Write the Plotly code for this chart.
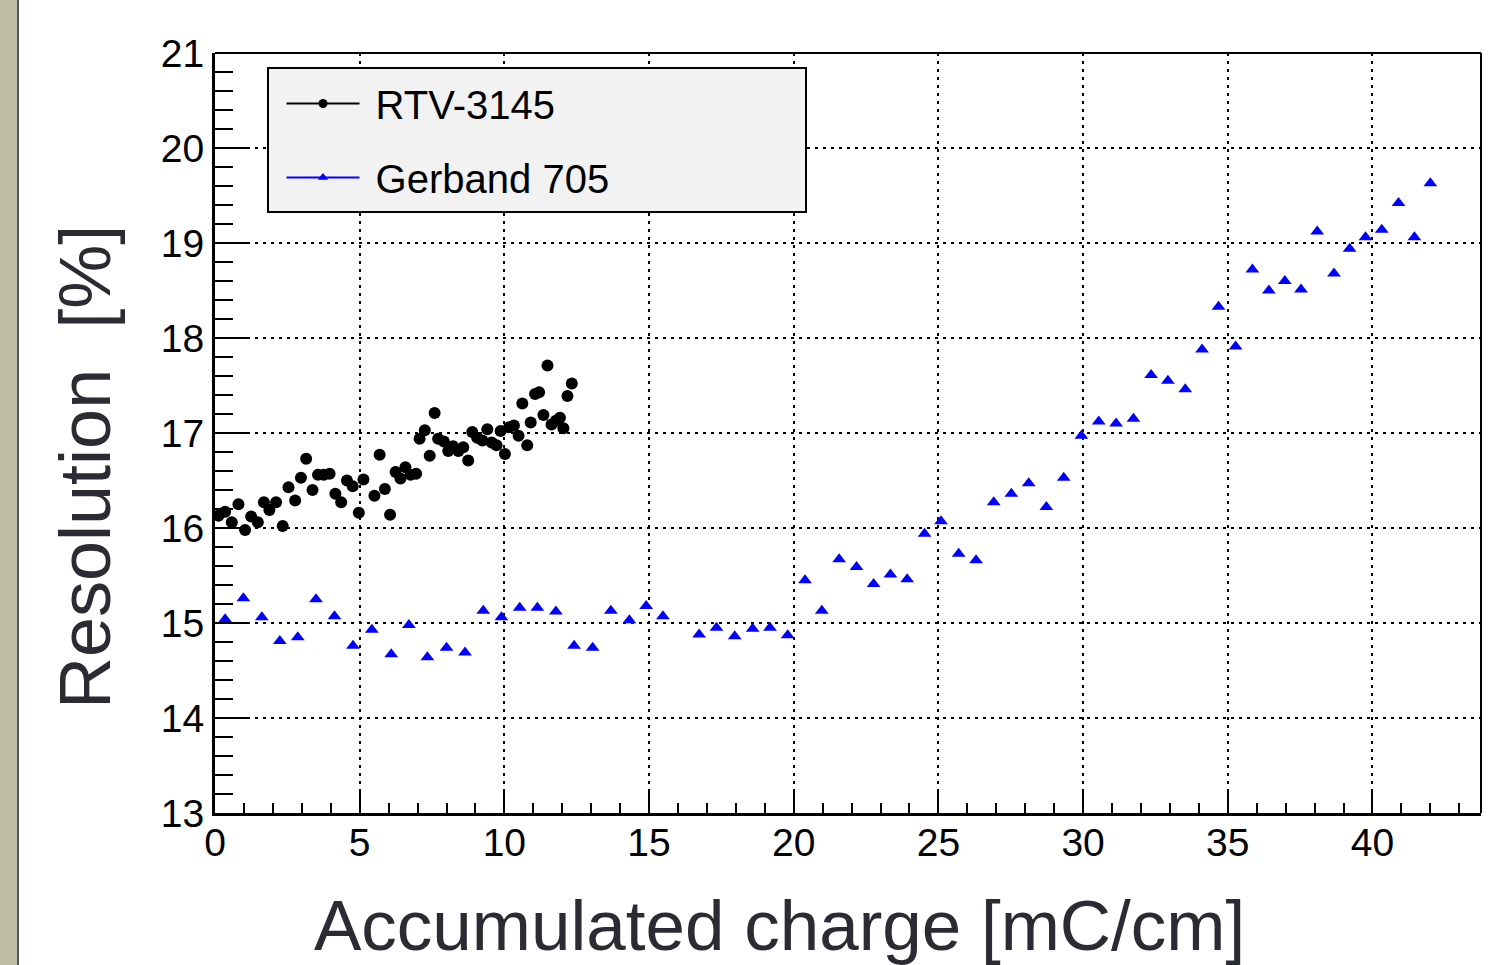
import plotly.graph_objects as go

# ---- data ----
rtv_x = [0.12, 0.35, 0.58, 0.81, 1.04, 1.25, 1.48, 1.69, 1.88, 2.11,
         2.34, 2.54, 2.77, 2.97, 3.15, 3.37, 3.56, 3.76, 3.96, 4.16,
         4.36, 4.56, 4.76, 4.97, 5.13, 5.51, 5.69, 5.87, 6.05, 6.24,
         6.41, 6.58, 6.76, 6.95, 7.07, 7.25, 7.42, 7.59, 7.71, 7.91,
         8.06, 8.23, 8.41, 8.58, 8.75, 8.89, 9.06, 9.24, 9.41, 9.56,
         9.73, 9.87, 10.02, 10.16, 10.33, 10.49, 10.62, 10.79, 10.91, 11.06,
         11.20, 11.35, 11.49, 11.63, 11.78, 11.92, 12.04, 12.18, 12.33]
rtv_y = [16.13, 16.17, 16.06, 16.25, 15.98, 16.12, 16.06, 16.27, 16.19, 16.27,
         16.02, 16.43, 16.29, 16.53, 16.73, 16.40, 16.56, 16.56, 16.57, 16.36,
         16.27, 16.50, 16.44, 16.16, 16.51, 16.34, 16.77, 16.41, 16.14, 16.59,
         16.52, 16.64, 16.56, 16.57, 16.94, 17.03, 16.76, 17.21, 16.94, 16.91,
         16.81, 16.86, 16.81, 16.85, 16.71, 17.01, 16.95, 16.92, 17.04, 16.90,
         16.87, 17.02, 16.78, 17.06, 17.08, 16.97, 17.31, 16.87, 17.11, 17.41,
         17.43, 17.19, 17.71, 17.09, 17.13, 17.16, 17.05, 17.39, 17.52]

gerband_x = [0.35, 0.98, 1.62, 2.24, 2.86, 3.49, 4.13, 4.77, 5.42, 6.09,
             6.70, 7.34, 8.00, 8.64, 9.27, 9.90, 10.53, 11.14, 11.78, 12.41,
             13.05, 13.68, 14.32, 14.90, 15.48, 16.73, 17.33, 17.96, 18.58, 19.18,
             19.79, 20.39, 20.97, 21.57, 22.17, 22.76, 23.34, 23.92, 24.52, 25.09,
             25.70, 26.30, 26.91, 27.52, 28.12, 28.73, 29.33, 29.94, 30.54, 31.14,
             31.74, 32.35, 32.93, 33.53, 34.11, 34.68, 35.27, 35.85, 36.42, 36.97,
             37.53, 38.09, 38.67, 39.21, 39.76, 40.32, 40.90, 41.45, 42.00]
gerband_y = [15.04, 15.26, 15.06, 14.81, 14.85, 15.25, 15.07, 14.76, 14.93, 14.67,
             14.98, 14.64, 14.74, 14.69, 15.13, 15.06, 15.16, 15.16, 15.12, 14.76,
             14.74, 15.13, 15.03, 15.18, 15.07, 14.88, 14.95, 14.86, 14.94, 14.95,
             14.87, 15.45, 15.13, 15.67, 15.59, 15.41, 15.51, 15.46, 15.94, 16.07,
             15.73, 15.66, 16.27, 16.36, 16.47, 16.22, 16.53, 16.97, 17.12, 17.10,
             17.15, 17.61, 17.55, 17.46, 17.88, 18.33, 17.91, 18.72, 18.50, 18.60,
             18.51, 19.12, 18.68, 18.94, 19.06, 19.14, 19.42, 19.06, 19.63]

series_names = ["RTV-3145", "Gerband 705"]
x_title = "Accumulated charge [mC/cm]"
y_title = "Resolution\u00a0 [%]"
x_range = [0, 43.75]
y_range = [13, 21]

assert len(rtv_x) == len(rtv_y)
assert len(gerband_x) == len(gerband_y)

# ---- layout geometry (pixels) ----
W, H = 1491, 965
L, R, T, B = 215, 1481, 53, 813
PW, PH = R - L, B - T


def px(xp):
    return (xp - L) / PW


def py(yp):
    return (B - yp) / PH


FONT = "Liberation Sans, Arial, Helvetica, sans-serif"

fig = go.Figure()

fig.add_trace(go.Scatter(x=rtv_x, y=rtv_y, mode="markers", showlegend=False,
                         marker=dict(symbol="circle", size=12, color="black")))
fig.add_trace(go.Scatter(x=gerband_x, y=gerband_y, mode="markers", showlegend=False,
                         marker=dict(symbol="triangle-up", size=12, color="#0000ff")))

# legend entries (line + marker, as in the original legend)
fig.add_trace(go.Scatter(x=[None], y=[None], mode="lines+markers",
                         name="\u00a0" + series_names[0], legendgroup="a",
                         line=dict(color="black", width=2),
                         marker=dict(symbol="circle", size=9, color="black")))
fig.add_trace(go.Scatter(x=[None], y=[None], mode="lines+markers",
                         name="\u00a0" + series_names[1], legendgroup="b",
                         line=dict(color="#0000ff", width=2),
                         marker=dict(symbol="triangle-up", size=9, color="#0000ff")))

axis_common = dict(
    showline=True, linecolor="black", linewidth=3,
    ticks="inside", tickcolor="black", tickwidth=2,
    showgrid=True, gridcolor="black", gridwidth=2, griddash="3px,5px",
    zeroline=False,
    tickfont=dict(family=FONT, size=39, color="black"),
)

fig.update_xaxes(range=x_range, dtick=5, tick0=0, ticklen=23, ticklabelstandoff=-7,
                 minor=dict(dtick=1, ticklen=10, ticks="inside", tickcolor="black",
                            tickwidth=2, showgrid=False),
                 **axis_common)
fig.update_yaxes(range=y_range, dtick=1, tick0=13, ticklen=35,
                 minor=dict(dtick=0.2, ticklen=18, ticks="inside", tickcolor="black",
                            tickwidth=2, showgrid=False),
                 **axis_common)

shapes = [
    # slide strip on the left
    dict(type="rect", xref="paper", yref="paper", x0=px(0), x1=px(17), y0=py(H), y1=py(0),
         fillcolor="#bfbea6", line=dict(width=0), layer="below"),
    dict(type="line", xref="paper", yref="paper", x0=px(18), x1=px(18), y0=py(H), y1=py(0),
         line=dict(color="#4d5566", width=2)),
    # frame top and right
    dict(type="line", xref="paper", yref="paper", x0=0, x1=1, y0=1, y1=1,
         line=dict(color="black", width=2)),
    dict(type="line", xref="paper", yref="paper", x0=1, x1=1, y0=0, y1=1,
         line=dict(color="black", width=2)),
    # legend box
    dict(type="rect", xref="paper", yref="paper", x0=px(268), x1=px(806),
         y0=py(212), y1=py(68), fillcolor="#f2f2f2", line=dict(color="black", width=2),
         layer="above"),
]

annotations = [
    dict(text=x_title, xref="paper", yref="paper", x=px(779), y=py(925),
         xanchor="center", yanchor="middle", showarrow=False,
         font=dict(family=FONT, size=71, color="#2b2b33")),
    dict(text=y_title, xref="paper", yref="paper", x=px(85), y=py(467),
         xanchor="center", yanchor="middle", showarrow=False, textangle=-90,
         font=dict(family=FONT, size=72, color="#2b2b33")),
]

fig.update_layout(
    width=W, height=H, autosize=False,
    margin=dict(l=L, r=W - R, t=T, b=H - B),
    paper_bgcolor="white", plot_bgcolor="white",
    shapes=shapes, annotations=annotations,
    showlegend=True,
    legend=dict(x=px(281.5), y=py(71), xanchor="left", yanchor="top",
                bgcolor="rgba(0,0,0,0)", borderwidth=0,
                font=dict(family=FONT, size=40, color="black"),
                itemwidth=73, tracegroupgap=19, itemclick=False),
)

fig.write_html("out.html")
